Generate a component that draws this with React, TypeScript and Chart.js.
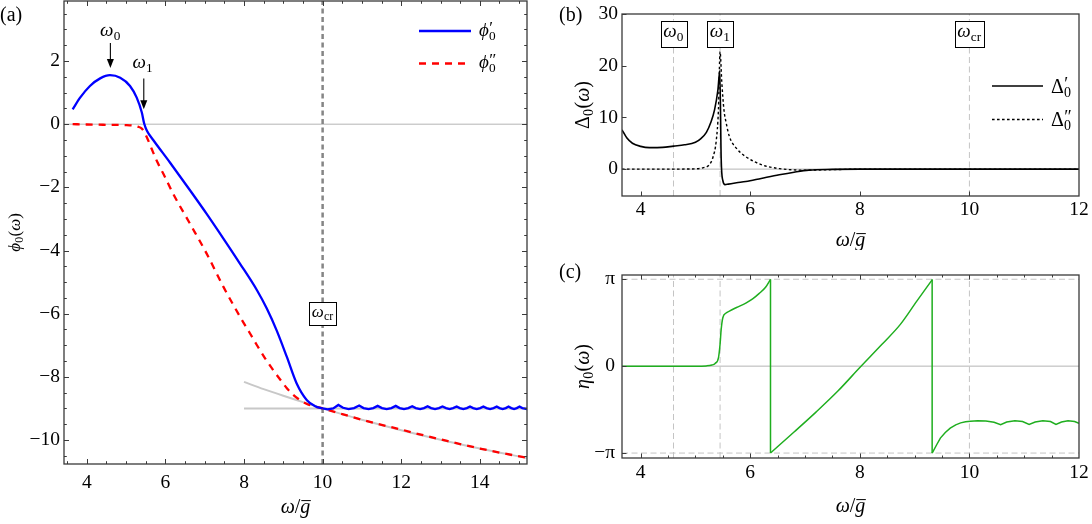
import { useEffect, useRef } from "react";
import { Chart, registerables } from "chart.js";

Chart.register(...registerables);

const SERIF = '"Liberation Serif", "Times New Roman", "DejaVu Serif", serif';
const FRAME = "#3a3a3a";
const TICK_SIZE = 19.5;

// ---------- shared markers ----------
const OMEGA0 = 4.6;
const OMEGA1 = 5.45;
const OMEGA_CR = 10;

// ---------- panel (a): phi_0(omega) ----------
const A_X_RANGE = [3.42, 15.2];
const A_Y_RANGE = [-10.76, 3.9];
const A_X_TICKS = [4, 6, 8, 10, 12, 14];
const A_Y_TICKS = [-10, -8, -6, -4, -2, 0, 2];

const phiReX = [3.64, 3.83, 4.08, 4.34, 4.59, 4.85, 5.1, 5.27, 5.4, 5.46, 5.53, 5.69, 6.12, 6.63, 7.05, 7.48, 7.9, 8.33, 8.58, 8.83, 9.09, 9.34, 9.6, 9.81, 10.0];
const phiReY = [0.47, 0.84, 1.21, 1.45, 1.55, 1.47, 1.21, 0.84, 0.37, 0.02, -0.21, -0.5, -1.22, -2.1, -2.84, -3.63, -4.42, -5.26, -5.84, -6.53, -7.37, -8.21, -8.74, -8.93, -9.0];

const phiReTailX = [10.0, 10.13, 10.27, 10.4, 10.52, 10.66, 10.8, 10.93, 11.04, 11.17, 11.29, 11.4, 11.51, 11.63, 11.75, 11.86, 11.96, 12.07, 12.18, 12.28, 12.37, 12.48, 12.58, 12.67, 12.76, 12.86, 12.96, 13.05, 13.14, 13.23, 13.32, 13.41, 13.49, 13.58, 13.67, 13.75, 13.83, 13.92, 14.01, 14.09, 14.17, 14.26, 14.35, 14.43, 14.5, 14.58, 14.66, 14.73, 14.8, 14.87, 14.94, 15.01, 15.08, 15.2];
const phiReTailY = [-9.0, -9.03, -9.0, -8.89, -8.98, -9.02, -8.99, -8.91, -8.99, -9.02, -8.99, -8.92, -8.99, -9.02, -8.99, -8.92, -8.99, -9.02, -8.99, -8.93, -8.99, -9.02, -8.99, -8.93, -8.99, -9.02, -8.99, -8.94, -8.99, -9.02, -8.99, -8.94, -8.99, -9.02, -8.99, -8.94, -8.99, -9.02, -8.99, -8.94, -8.99, -9.02, -8.99, -8.94, -8.99, -9.02, -8.99, -8.94, -8.99, -9.02, -8.99, -8.94, -8.99, -9.02];

const phiImX = [3.64, 4.0, 4.5, 5.0, 5.2, 5.3, 5.4, 5.47, 5.53, 5.65, 5.78, 6.0, 6.2, 6.63, 7.05, 7.48, 7.9, 8.15, 8.33, 8.54, 8.75, 8.96, 9.09, 9.26, 9.43, 9.6, 9.77, 10.0, 10.5, 11.0, 11.5, 12.0, 12.5, 13.0, 13.5, 14.0, 14.5, 15.2];
const phiImY = [0.0, -0.01, -0.02, -0.03, -0.05, -0.08, -0.14, -0.27, -0.42, -0.78, -1.16, -1.7, -2.21, -3.16, -4.1, -5.16, -6.1, -6.62, -7.0, -7.42, -7.8, -8.15, -8.36, -8.58, -8.74, -8.86, -8.93, -9.0, -9.18, -9.36, -9.52, -9.67, -9.83, -9.98, -10.13, -10.27, -10.4, -10.56];

const asymSlopeX = [8.0, 8.5, 9.0, 9.5, 10.0, 11.0, 12.0, 13.0, 14.0, 15.2];
const asymSlopeY = [-8.16, -8.39, -8.6, -8.8, -9.0, -9.36, -9.69, -9.99, -10.27, -10.57];
const asymFlatX = [8.0, 15.2];
const asymFlatY = [-9.0, -9.0];

const A_ARROW0 = [2.57, 1.78];
const A_ARROW1 = [1.45, 0.47];
const A_CR_BOX_Y = -6.0;

// ---------- panel (b): Delta_0(omega) ----------
const B_X_RANGE = [3.66, 12];
const B_Y_RANGE = [-5.2, 30];
const B_X_TICKS = [4, 6, 8, 10, 12];
const B_Y_TICKS = [0, 10, 20, 30];

const dReX = [3.66, 3.75, 3.85, 4.0, 4.16, 4.4, 4.6, 4.8, 5.0, 5.1, 5.2, 5.28, 5.35, 5.41, 5.445, 5.47, 5.5, 5.54, 5.6, 5.75, 5.92, 6.2, 6.53, 6.8, 7.07, 7.5, 8.0, 9.0, 10.0, 12.0];
const dReY = [7.6, 6.0, 5.0, 4.4, 4.15, 4.2, 4.45, 4.7, 5.2, 5.9, 7.1, 9.0, 11.5, 15.3, 19.0, 2.0, -2.2, -3.0, -2.9, -2.65, -2.4, -1.8, -1.1, -0.6, -0.2, -0.05, 0.0, 0.0, 0.0, 0.0];

const dImX = [3.66, 4.5, 5.0, 5.15, 5.25, 5.32, 5.38, 5.42, 5.45, 5.48, 5.52, 5.56, 5.62, 5.75, 5.92, 6.22, 6.53, 7.0, 7.5, 8.0, 12.0];
const dImY = [0.0, 0.0, 0.05, 0.3, 0.8, 2.3, 5.5, 11.5, 22.7, 17.0, 11.5, 9.0, 6.3, 4.0, 2.4, 0.8, 0.1, -0.2, -0.1, 0.0, 0.0];

const B_BOX_Y = 26.2;

// ---------- panel (c): eta_0(omega) ----------
const C_X_RANGE = [3.66, 12];
const C_Y_RANGE = [-3.32, 3.295];
const C_X_TICKS = [4, 6, 8, 10, 12];
const C_Y_TICKS = [-Math.PI, 0, Math.PI];

const etaAX = [3.66, 4.5, 5.0, 5.2, 5.3, 5.36, 5.42, 5.45, 5.47, 5.5, 5.56, 5.62, 5.75, 5.92, 6.05, 6.16, 6.28, 6.37];
const etaAY = [0.0, 0.0, 0.0, 0.01, 0.04, 0.1, 0.3, 0.8, 1.33, 1.75, 1.92, 1.99, 2.12, 2.28, 2.44, 2.62, 2.85, 3.14];
const etaBX = [6.37, 6.8, 7.2, 7.6, 8.0, 8.4, 8.74, 9.04, 9.32];
const etaBY = [-3.14, -2.38, -1.66, -0.9, -0.05, 0.78, 1.51, 2.35, 3.12];
const etaCX = [9.32, 9.4, 9.47, 9.56, 9.65, 9.75, 9.84, 9.93, 10.02, 10.15, 10.3, 10.45, 10.57, 10.68, 10.83, 10.97, 11.09, 11.2, 11.34, 11.48, 11.58, 11.68, 11.8, 11.92, 12.0];
const etaCY = [-3.14, -2.85, -2.6, -2.4, -2.24, -2.12, -2.05, -2.01, -1.99, -1.97, -1.98, -2.03, -2.12, -2.02, -1.97, -2.0, -2.11, -2.02, -1.97, -2.0, -2.11, -2.02, -1.97, -2.0, -2.07];
const etaJumpX = [6.37, 9.32];

// ---------- drawing helpers ----------
type Seg = { t: string; i?: boolean; sub?: string; sup?: string; over?: boolean };

function fontStr(size: number, italic: boolean) {
  return `${italic ? "italic " : ""}${size}px ${SERIF}`;
}

const SUB = 0.7;
const SUP = 0.9;

function segWidth(ctx: CanvasRenderingContext2D, s: Seg, size: number) {
  ctx.font = fontStr(size, !!s.i);
  let w = ctx.measureText(s.t).width;
  if (s.sub || s.sup) {
    let ws = 0, wp = 0;
    if (s.sub) { ctx.font = fontStr(size * SUB, false); ws = ctx.measureText(s.sub).width; }
    if (s.sup) { ctx.font = fontStr(size * SUP, false); wp = ctx.measureText(s.sup).width * 0.6; }
    w += Math.max(ws, wp) + size * 0.03;
  }
  return w;
}

function drawMath(ctx: CanvasRenderingContext2D, segs: Seg[], x: number, baseline: number, size: number, align: "left" | "center" | "right" = "center") {
  const total = segs.reduce((a, s) => a + segWidth(ctx, s, size), 0);
  let cx = align === "center" ? x - total / 2 : align === "right" ? x - total : x;
  ctx.save();
  ctx.fillStyle = "#000";
  ctx.strokeStyle = "#000";
  ctx.textAlign = "left";
  ctx.textBaseline = "alphabetic";
  for (const s of segs) {
    ctx.font = fontStr(size, !!s.i);
    const w = ctx.measureText(s.t).width;
    ctx.fillText(s.t, cx, baseline);
    if (s.over) {
      ctx.lineWidth = 1;
      ctx.beginPath();
      ctx.moveTo(cx + w * 0.1, baseline - size * 0.62);
      ctx.lineTo(cx + w * 1.05, baseline - size * 0.62);
      ctx.stroke();
    }
    cx += w;
    if (s.sub || s.sup) {
      let mw = 0;
      if (s.sup) {
        ctx.font = fontStr(size * SUP, false);
        ctx.fillText(s.sup, cx + size * 0.02, baseline - size * 0.16);
        mw = Math.max(mw, ctx.measureText(s.sup).width * 0.6);
      }
      if (s.sub) {
        ctx.font = fontStr(size * SUB, false);
        ctx.fillText(s.sub, cx + size * 0.01, baseline + size * 0.2);
        mw = Math.max(mw, ctx.measureText(s.sub).width);
      }
      cx += mw + size * 0.03;
    }
  }
  ctx.restore();
}

function drawBoxLabel(ctx: CanvasRenderingContext2D, segs: Seg[], cx: number, cy: number, size: number, h: number) {
  const total = segs.reduce((a, s) => a + segWidth(ctx, s, size), 0);
  const w = total + 5;
  ctx.save();
  ctx.fillStyle = "#fff";
  ctx.fillRect(cx - w / 2, cy - h / 2, w, h);
  ctx.strokeStyle = "#000";
  ctx.lineWidth = 1;
  ctx.strokeRect(Math.round(cx - w / 2) + 0.5, Math.round(cy - h / 2) + 0.5, Math.round(w), Math.round(h));
  ctx.restore();
  drawMath(ctx, segs, cx, cy + size * 0.18, size, "center");
}

function drawArrow(ctx: CanvasRenderingContext2D, x: number, y1: number, y2: number) {
  ctx.save();
  ctx.strokeStyle = "#000";
  ctx.fillStyle = "#000";
  ctx.lineWidth = 1.1;
  ctx.beginPath();
  ctx.moveTo(x, y1);
  ctx.lineTo(x, y2 - 6);
  ctx.stroke();
  ctx.beginPath();
  ctx.moveTo(x, y2);
  ctx.lineTo(x - 3.5, y2 - 9);
  ctx.lineTo(x + 3.5, y2 - 9);
  ctx.closePath();
  ctx.fill();
  ctx.restore();
}

function minorList(range: number[], step: number) {
  const out: number[] = [];
  const start = Math.ceil(range[0] / step) * step;
  for (let v = start; v <= range[1] + 1e-9; v += step) out.push(Math.round(v * 1000) / 1000);
  return out;
}

type TickSpec = {
  xMajor: number[]; xMinor: number[]; yMajor: number[]; yMinor: number[];
  top: boolean; right: boolean; maj: number; min: number;
};

function drawFrame(chart: any, spec: TickSpec) {
  const ctx: CanvasRenderingContext2D = chart.ctx;
  const { left, right, top, bottom } = chart.chartArea;
  const xs = chart.scales.x;
  const ys = chart.scales.y;
  ctx.save();
  ctx.strokeStyle = FRAME;
  ctx.lineWidth = 1;
  ctx.beginPath();
  const xt = (vals: number[], len: number) => {
    for (const v of vals) {
      const p = Math.round(xs.getPixelForValue(v)) + 0.5;
      if (p < left || p > right) continue;
      ctx.moveTo(p, bottom); ctx.lineTo(p, bottom - len);
      if (spec.top) { ctx.moveTo(p, top); ctx.lineTo(p, top + len); }
    }
  };
  const yt = (vals: number[], len: number) => {
    for (const v of vals) {
      const p = Math.round(ys.getPixelForValue(v)) + 0.5;
      if (p < top || p > bottom) continue;
      ctx.moveTo(left, p); ctx.lineTo(left + len, p);
      if (spec.right) { ctx.moveTo(right, p); ctx.lineTo(right - len, p); }
    }
  };
  xt(spec.xMajor, spec.maj);
  xt(spec.xMinor, spec.min);
  yt(spec.yMajor, spec.maj);
  yt(spec.yMinor, spec.min);
  ctx.stroke();
  ctx.lineWidth = 1.3;
  ctx.strokeRect(left, top, right - left, bottom - top);
  ctx.restore();
}

function drawPanelLabel(ctx: CanvasRenderingContext2D, text: string, x: number, baseline: number) {
  ctx.save();
  ctx.font = fontStr(20, false);
  ctx.fillStyle = "#000";
  ctx.textAlign = "left";
  ctx.textBaseline = "alphabetic";
  ctx.fillText(text, x, baseline);
  ctx.restore();
}

// ---------- chart helpers ----------
function pts(xs: number[], ys: number[]) {
  return xs.map((x, i) => ({ x, y: ys[i] }));
}

function ds(data: any[], color: string, width: number, extra: any = {}) {
  return {
    data, borderColor: color, borderWidth: width, pointRadius: 0, pointHoverRadius: 0,
    fill: false, tension: 0, borderCapStyle: "butt", ...extra,
  };
}

const minusFmt = (v: number) => (v < 0 ? "\u2212" + String(-v) : String(v));

function axis(range: number[], ticks: number[], fmt: (v: number) => string, size: number, pad: number) {
  return {
    type: "linear",
    min: range[0],
    max: range[1],
    grid: { display: false, drawTicks: false },
    border: { display: false },
    ticks: {
      color: "#000", font: { family: SERIF, size: TICK_SIZE }, padding: pad,
      autoSkip: false, maxRotation: 0, minRotation: 0,
      callback: (v: any) => fmt(Number(v)),
    },
    afterBuildTicks: (s: any) => { s.ticks = ticks.map((value) => ({ value })); },
    afterFit: (s: any) => {
      if (s.isHorizontal()) s.height = size; else s.width = size;
      s.paddingLeft = 0; s.paddingRight = 0; s.paddingTop = 0; s.paddingBottom = 0;
    },
  };
}

function baseOptions(padding: any, x: any, y: any) {
  return {
    animation: false, responsive: false, events: [],
    plugins: { legend: { display: false }, tooltip: { enabled: false }, title: { display: false } },
    layout: { padding },
    scales: { x, y },
  };
}

const omegaX: Seg[] = [{ t: "\u03c9", i: true }, { t: "/" }, { t: "g", i: true, over: true }];

function makeA(canvas: HTMLCanvasElement) {
  const decor = {
    id: "decorA",
    afterDraw(chart: any) {
      const ctx: CanvasRenderingContext2D = chart.ctx;
      const xs = chart.scales.x, ys = chart.scales.y;
      const ca = chart.chartArea;
      drawFrame(chart, {
        xMajor: A_X_TICKS, xMinor: minorList(A_X_RANGE, 0.5), yMajor: A_Y_TICKS, yMinor: minorList(A_Y_RANGE, 0.5),
        top: true, right: true, maj: 5, min: 2.8,
      });
      const x0 = xs.getPixelForValue(OMEGA0), x1 = xs.getPixelForValue(OMEGA1);
      drawArrow(ctx, x0, ys.getPixelForValue(A_ARROW0[0]), ys.getPixelForValue(A_ARROW0[1]));
      drawArrow(ctx, x1, ys.getPixelForValue(A_ARROW1[0]), ys.getPixelForValue(A_ARROW1[1]));
      drawMath(ctx, [{ t: "\u03c9", i: true, sub: "0" }], x0, ys.getPixelForValue(A_ARROW0[0]) - 7, 19);
      drawMath(ctx, [{ t: "\u03c9", i: true, sub: "1" }], x1 - 1, ys.getPixelForValue(A_ARROW1[0]) - 10, 19);
      drawBoxLabel(ctx, [{ t: "\u03c9", i: true, sub: "cr" }], xs.getPixelForValue(OMEGA_CR), ys.getPixelForValue(A_CR_BOX_Y), 17, 23);
      // legend
      ctx.save();
      ctx.lineWidth = 2.3;
      ctx.strokeStyle = "#0000ff";
      ctx.beginPath(); ctx.moveTo(419, 31); ctx.lineTo(471, 31); ctx.stroke();
      ctx.strokeStyle = "#ff0000";
      ctx.setLineDash([7, 6]);
      ctx.beginPath(); ctx.moveTo(419, 63.5); ctx.lineTo(471, 63.5); ctx.stroke();
      ctx.restore();
      drawMath(ctx, [{ t: "\u03d5", i: true, sup: "\u2032", sub: "0" }], 479, 36, 19, "left");
      drawMath(ctx, [{ t: "\u03d5", i: true, sup: "\u2033", sub: "0" }], 479, 68, 19, "left");
      // titles
      drawMath(ctx, omegaX, (ca.left + ca.right) / 2, 513, 20);
      ctx.save();
      ctx.translate(15, (ca.top + ca.bottom) / 2);
      ctx.rotate(-Math.PI / 2);
      drawMath(ctx, [{ t: "\u03d5", i: true, sub: "0" }, { t: "(" }, { t: "\u03c9", i: true }, { t: ")" }], 0, 5, 17);
      ctx.restore();
      drawPanelLabel(ctx, "(a)", 0, 21);
    },
  };
  return new Chart(canvas, {
    type: "line",
    data: {
      datasets: [
        ds(pts(phiReX, phiReY), "#0000ff", 2.3, { cubicInterpolationMode: "monotone" }),
        ds(pts(phiReTailX, phiReTailY), "#0000ff", 2.3),
        ds(pts(phiImX, phiImY), "#ff0000", 2.3, { cubicInterpolationMode: "monotone", borderDash: [7, 6] }),
        ds(pts([OMEGA_CR, OMEGA_CR], A_Y_RANGE), "#858585", 2.5, { borderDash: [5, 3.5] }),
        ds(pts(asymSlopeX, asymSlopeY), "#c8c8c8", 2, { cubicInterpolationMode: "monotone" }),
        ds(pts(asymFlatX, asymFlatY), "#c8c8c8", 2),
        ds(pts(A_X_RANGE, [0, 0]), "#b4b4b4", 1),
      ] as any,
    },
    options: baseOptions(
      { left: 0, top: 1, right: 18, bottom: 0 },
      axis(A_X_RANGE, A_X_TICKS, minusFmt, 60, 7),
      axis(A_Y_RANGE, A_Y_TICKS, minusFmt, 64, 4),
    ) as any,
    plugins: [decor],
  });
}

function makeB(canvas: HTMLCanvasElement) {
  const decor = {
    id: "decorB",
    afterDraw(chart: any) {
      const ctx: CanvasRenderingContext2D = chart.ctx;
      const xs = chart.scales.x, ys = chart.scales.y;
      const ca = chart.chartArea;
      drawFrame(chart, { xMajor: B_X_TICKS, xMinor: [], yMajor: B_Y_TICKS, yMinor: [], top: false, right: false, maj: 4.5, min: 0 });
      const by = ys.getPixelForValue(B_BOX_Y);
      drawBoxLabel(ctx, [{ t: "\u03c9", i: true, sub: "0" }], xs.getPixelForValue(OMEGA0), by, 19, 26);
      drawBoxLabel(ctx, [{ t: "\u03c9", i: true, sub: "1" }], xs.getPixelForValue(OMEGA1), by, 19, 26);
      drawBoxLabel(ctx, [{ t: "\u03c9", i: true, sub: "cr" }], xs.getPixelForValue(OMEGA_CR), by, 19, 26);
      // legend
      ctx.save();
      ctx.strokeStyle = "#000";
      ctx.lineWidth = 1.6;
      ctx.beginPath(); ctx.moveTo(447, 86); ctx.lineTo(498, 86); ctx.stroke();
      ctx.lineWidth = 1.4;
      ctx.setLineDash([2.6, 2.4]);
      ctx.beginPath(); ctx.moveTo(447, 119.5); ctx.lineTo(498, 119.5); ctx.stroke();
      ctx.restore();
      drawMath(ctx, [{ t: "\u0394", sup: "\u2032", sub: "0" }], 506, 93, 20, "left");
      drawMath(ctx, [{ t: "\u0394", sup: "\u2033", sub: "0" }], 506, 126, 20, "left");
      drawMath(ctx, omegaX, (ca.left + ca.right) / 2, 246, 20);
      ctx.save();
      ctx.translate(38, (ca.top + ca.bottom) / 2);
      ctx.rotate(-Math.PI / 2);
      drawMath(ctx, [{ t: "\u0394", sub: "0" }, { t: "(" }, { t: "\u03c9", i: true }, { t: ")" }], 0, 6, 20);
      ctx.restore();
      drawPanelLabel(ctx, "(b)", 14, 21);
    },
  };
  return new Chart(canvas, {
    type: "line",
    data: {
      datasets: [
        ds(pts(dReX, dReY), "#000000", 1.6, { cubicInterpolationMode: "monotone" }),
        ds(pts(dImX, dImY), "#000000", 1.4, { cubicInterpolationMode: "monotone", borderDash: [2.6, 2.4] }),
        ds(pts([OMEGA0, OMEGA0], B_Y_RANGE), "#c4c4c4", 1, { borderDash: [6, 3.5] }),
        ds(pts([OMEGA1, OMEGA1], B_Y_RANGE), "#c4c4c4", 1, { borderDash: [6, 3.5] }),
        ds(pts([OMEGA_CR, OMEGA_CR], B_Y_RANGE), "#c4c4c4", 1, { borderDash: [6, 3.5] }),
        ds(pts(B_X_RANGE, [0, 0]), "#b4b4b4", 1),
      ] as any,
    },
    options: baseOptions(
      { left: 0, top: 14, right: 13, bottom: 0 },
      axis(B_X_RANGE, B_X_TICKS, minusFmt, 54, 2),
      axis(B_Y_RANGE, B_Y_TICKS, minusFmt, 77, 4),
    ) as any,
    plugins: [decor],
  });
}

const piFmt = (v: number) => {
  if (Math.abs(v - Math.PI) < 1e-6) return "\u03c0";
  if (Math.abs(v + Math.PI) < 1e-6) return "\u2212\u03c0";
  return "0";
};

function makeC(canvas: HTMLCanvasElement) {
  const decor = {
    id: "decorC",
    afterDraw(chart: any) {
      const ctx: CanvasRenderingContext2D = chart.ctx;
      const ca = chart.chartArea;
      drawFrame(chart, {
        xMajor: C_X_TICKS, xMinor: minorList(C_X_RANGE, 0.5), yMajor: C_Y_TICKS, yMinor: [],
        top: true, right: false, maj: 4.5, min: 2.5,
      });
      drawMath(ctx, omegaX, (ca.left + ca.right) / 2, 262, 20);
      ctx.save();
      ctx.translate(38, (ca.top + ca.bottom) / 2);
      ctx.rotate(-Math.PI / 2);
      drawMath(ctx, [{ t: "\u03b7", i: true, sub: "0" }, { t: "(" }, { t: "\u03c9", i: true }, { t: ")" }], 0, 6, 20);
      ctx.restore();
      drawPanelLabel(ctx, "(c)", 14, 28);
    },
  };
  const green = "#1fae1f";
  return new Chart(canvas, {
    type: "line",
    data: {
      datasets: [
        ds(pts(etaAX, etaAY), green, 1.5, { cubicInterpolationMode: "monotone" }),
        ds(pts(etaBX, etaBY), green, 1.5, { cubicInterpolationMode: "monotone" }),
        ds(pts(etaCX, etaCY), green, 1.5),
        ds(pts([etaJumpX[0], etaJumpX[0]], [Math.PI, -Math.PI]), green, 1.5),
        ds(pts([etaJumpX[1], etaJumpX[1]], [Math.PI, -Math.PI]), green, 1.5),
        ds(pts([OMEGA0, OMEGA0], C_Y_RANGE), "#c4c4c4", 1, { borderDash: [6, 3.5] }),
        ds(pts([OMEGA1, OMEGA1], C_Y_RANGE), "#c4c4c4", 1, { borderDash: [6, 3.5] }),
        ds(pts([OMEGA_CR, OMEGA_CR], C_Y_RANGE), "#c4c4c4", 1, { borderDash: [6, 3.5] }),
        ds(pts(C_X_RANGE, [Math.PI, Math.PI]), "#c4c4c4", 1, { borderDash: [6, 3.5] }),
        ds(pts(C_X_RANGE, [-Math.PI, -Math.PI]), "#c4c4c4", 1, { borderDash: [6, 3.5] }),
        ds(pts(C_X_RANGE, [0, 0]), "#b4b4b4", 1),
      ] as any,
    },
    options: baseOptions(
      { left: 0, top: 25, right: 13, bottom: 0 },
      axis(C_X_RANGE, C_X_TICKS, minusFmt, 66, 3),
      axis(C_Y_RANGE, C_Y_TICKS, piFmt, 77, 7),
    ) as any,
    plugins: [decor],
  });
}

export default function App() {
  const refA = useRef<HTMLCanvasElement>(null);
  const refB = useRef<HTMLCanvasElement>(null);
  const refC = useRef<HTMLCanvasElement>(null);

  useEffect(() => {
    const charts: Chart[] = [];
    if (refA.current) charts.push(makeA(refA.current));
    if (refB.current) charts.push(makeB(refB.current));
    if (refC.current) charts.push(makeC(refC.current));
    return () => charts.forEach((c) => c.destroy());
  }, []);

  return (
    <div style={{ position: "absolute", left: 0, top: 0, width: 1092, height: 524, background: "#fff", overflow: "hidden" }}>
      <canvas ref={refA} width={545} height={524} style={{ position: "absolute", left: 0, top: 0, width: 545, height: 524 }} />
      <canvas ref={refB} width={547} height={250} style={{ position: "absolute", left: 545, top: 0, width: 547, height: 250 }} />
      <canvas ref={refC} width={547} height={274} style={{ position: "absolute", left: 545, top: 250, width: 547, height: 274 }} />
    </div>
  );
}
